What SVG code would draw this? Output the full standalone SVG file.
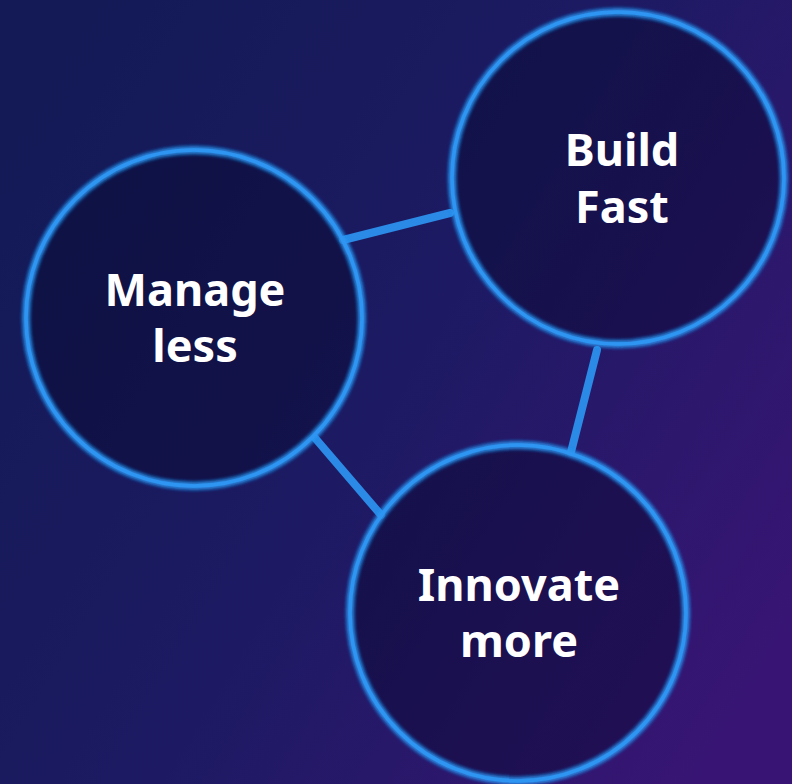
<svg xmlns="http://www.w3.org/2000/svg" width="792" height="784" viewBox="0 0 792 784">
  <defs>
    <linearGradient id="bg" x1="0" y1="0.2" x2="1" y2="0.8">
      <stop offset="0" stop-color="#131a56"/>
      <stop offset="0.5" stop-color="#1d1a63"/>
      <stop offset="1" stop-color="#381574"/>
    </linearGradient>
    <filter id="glow" x="-20%" y="-20%" width="140%" height="140%">
      <feGaussianBlur in="SourceGraphic" stdDeviation="2.8" result="b"/>
      <feMerge>
        <feMergeNode in="b"/>
        <feMergeNode in="b"/>
        <feMergeNode in="b"/>
        <feMergeNode in="SourceGraphic"/>
      </feMerge>
    </filter>
    <style>
      .disc { fill: #07072a; fill-opacity: 0.42; }
      .ring { fill: none; stroke: #2e96f2; stroke-width: 3.5; filter: url(#glow); }
      .link { stroke: #2b8ae6; stroke-width: 8; stroke-linecap: round; }
      .label { font-family: "Noto Sans", "Open Sans", sans-serif; font-weight: 700; font-size: 45px; fill: #ffffff; text-anchor: middle; }
    </style>
  </defs>

  <rect width="792" height="784" fill="url(#bg)"/>

  <g id="connectors">
    <line class="link" x1="343" y1="240" x2="450" y2="213"/>
    <line class="link" x1="597" y1="350" x2="571" y2="452"/>
    <line class="link" x1="315" y1="438" x2="381" y2="515"/>
  </g>

  <g id="manage-less">
    <circle class="disc" cx="194" cy="318" r="168"/>
    <circle class="ring" cx="194" cy="318" r="168"/>
    <text class="label" x="195" y="306">Manage</text>
    <text class="label" x="195" y="362">less</text>
  </g>

  <g id="build-fast">
    <circle class="disc" cx="618" cy="178" r="166"/>
    <circle class="ring" cx="618" cy="178" r="166"/>
    <text class="label" x="622" y="166">Build</text>
    <text class="label" x="622" y="223">Fast</text>
  </g>

  <g id="innovate-more">
    <circle class="disc" cx="518" cy="613" r="168"/>
    <circle class="ring" cx="518" cy="613" r="168"/>
    <text class="label" x="519" y="601">Innovate</text>
    <text class="label" x="519" y="657">more</text>
  </g>
</svg>
